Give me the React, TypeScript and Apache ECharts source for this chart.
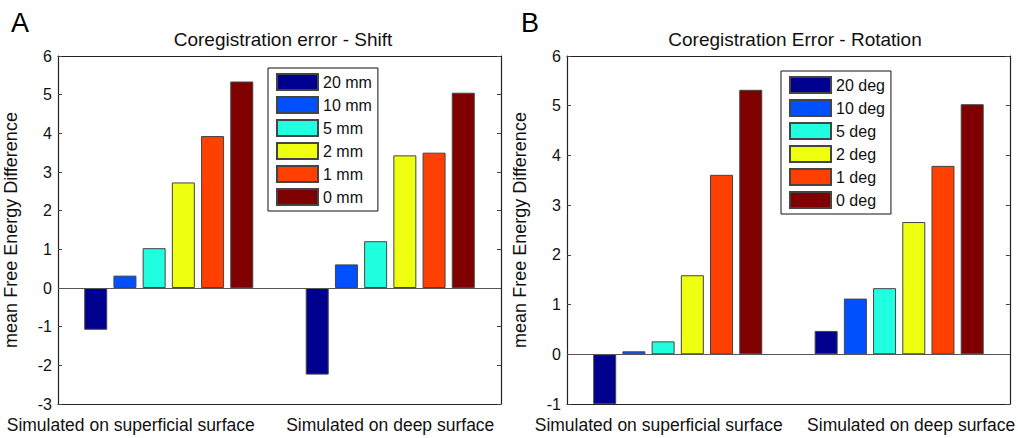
import React, { useEffect, useRef } from "react";
import * as echarts from "echarts";

const categories = ["Simulated on superficial surface", "Simulated on deep surface"];
const shiftNames = ["20 mm", "10 mm", "5 mm", "2 mm", "1 mm", "0 mm"];
const rotationNames = ["20 deg", "10 deg", "5 deg", "2 deg", "1 deg", "0 deg"];
const colors = ["#00008F", "#0050FF", "#20FFE0", "#EEFF10", "#FF4000", "#800000"];
// values per series: [superficial, deep]
const shiftValues = [
  [-1.08, -2.24],
  [0.32, 0.61],
  [1.03, 1.21],
  [2.73, 3.43],
  [3.93, 3.5],
  [5.34, 5.05],
];
const rotationValues = [
  [-1.0, 0.47],
  [0.06, 1.12],
  [0.26, 1.33],
  [1.59, 2.66],
  [3.61, 3.79],
  [5.32, 5.03],
];
const shiftTicks = { min: -3, max: 6, interval: 1 };
const rotationTicks = { min: -1, max: 6, interval: 1 };

const FONT = "Liberation Sans, Arial, sans-serif";

export default function App() {
  const ref = useRef<HTMLDivElement>(null);
  useEffect(() => {
    if (!ref.current) return;
    const chart = echarts.init(ref.current, undefined, { renderer: "svg" });
    const axisColor = "#222";
    const grids = [
      { left: 58, right: 517, top: 56, bottom: 34 },
      { left: 567, right: 7, top: 56, bottom: 34 },
    ];
    const labelPads = [
      [[0, 76, 0, 0], [0, 0, 0, 0]],
      [[0, 38, 0, 0], [0, 0, 0, 24]],
    ];
    const xAxes: any[] = [];
    const yAxes: any[] = [];
    [0, 1].forEach((g) => {
      const pads = labelPads[g];
      xAxes.push({
        type: "category",
        gridIndex: g,
        data: categories,
        position: "bottom",
        axisLine: { onZero: false, lineStyle: { color: axisColor, width: 1.2 } },
        axisTick: { inside: true, alignWithLabel: true, length: 4, lineStyle: { color: "#444" } },
        axisLabel: {
          margin: 12,
          interval: 0,
          formatter: (v: string, i: number) => (i === 0 ? "{a|" + v + "}" : "{b|" + v + "}"),
          rich: {
            a: { fontFamily: FONT, fontSize: 17.5, color: "#111", padding: pads[0] },
            b: { fontFamily: FONT, fontSize: 17.5, color: "#111", padding: pads[1] },
          },
        },
      });
      xAxes.push({
        type: "category",
        gridIndex: g,
        data: categories,
        position: "top",
        axisLine: { onZero: false, lineStyle: { color: axisColor, width: 1.2 } },
        axisTick: { inside: true, alignWithLabel: true, length: 4, lineStyle: { color: "#444" } },
        axisLabel: { show: false },
      });
      const t = g === 0 ? shiftTicks : rotationTicks;
      yAxes.push({
        type: "value",
        gridIndex: g,
        min: t.min,
        max: t.max,
        interval: t.interval,
        position: "left",
        name: "mean Free Energy Difference",
        nameLocation: "middle",
        nameGap: 38,
        nameTextStyle: { fontFamily: FONT, fontSize: 18, color: "#111" },
        axisLine: { show: true, lineStyle: { color: axisColor, width: 1.2 } },
        axisTick: { show: true, inside: true, length: 4, lineStyle: { color: "#444" } },
        axisLabel: { fontFamily: FONT, fontSize: 16, color: "#111", margin: 6 },
        splitLine: { show: false },
      });
      yAxes.push({
        type: "value",
        gridIndex: g,
        min: t.min,
        max: t.max,
        interval: t.interval,
        position: "right",
        axisLine: { show: true, lineStyle: { color: axisColor, width: 1.2 } },
        axisTick: { show: true, inside: true, length: 4, lineStyle: { color: "#444" } },
        axisLabel: { show: false },
        splitLine: { show: false },
      });
    });

    const makeSeries = (names: string[], values: number[][], g: number) =>
      names.map((name, i) => ({
        type: "bar",
        name,
        xAxisIndex: g * 2,
        yAxisIndex: g * 2,
        data: values[i],
        barWidth: 23,
        barGap: "27%",
        itemStyle: { color: colors[i], borderColor: "#444", borderWidth: 1 },
        ...(i === 0
          ? {
              markLine: {
                silent: true,
                symbol: ["none", "none"],
                label: { show: false },
                lineStyle: { color: "#555", type: "solid", width: 1 },
                data: [{ yAxis: 0 }],
              },
            }
          : {}),
      }));

    const legendBase = {
      orient: "vertical",
      backgroundColor: "#fff",
      borderColor: "#111",
      borderWidth: 1,
      borderRadius: 0,
      padding: [5, 6, 5, 8],
      itemWidth: 41,
      itemHeight: 16,
      itemGap: 5,
      icon: "rect",
      textStyle: { fontFamily: FONT, fontSize: 16, color: "#111", lineHeight: 16 },
    };

    chart.setOption({
      animation: false,
      backgroundColor: "#fff",
      title: [
        { text: "A", left: 6, top: 4, textStyle: { fontFamily: FONT, fontSize: 27, fontWeight: "normal", color: "#000" } },
        { text: "B", left: 516, top: 4, textStyle: { fontFamily: FONT, fontSize: 27, fontWeight: "normal", color: "#000" } },
        {
          text: "Coregistration error - Shift",
          left: 278,
          top: 25,
          textAlign: "center",
          textStyle: { fontFamily: FONT, fontSize: 19, fontWeight: "normal", color: "#111" },
        },
        {
          text: "Coregistration Error - Rotation",
          left: 790,
          top: 25,
          textAlign: "center",
          textStyle: { fontFamily: FONT, fontSize: 19, fontWeight: "normal", color: "#111" },
        },
      ],
      legend: [
        { ...legendBase, data: shiftNames, left: 268, top: 68 },
        { ...legendBase, data: rotationNames, left: 781, top: 71 },
      ],
      grid: grids,
      xAxis: xAxes,
      yAxis: yAxes,
      series: [...makeSeries(shiftNames, shiftValues, 0), ...makeSeries(rotationNames, rotationValues, 1)],
    });
    return () => chart.dispose();
  }, []);
  return <div ref={ref} style={{ width: 1018, height: 438, position: "absolute", left: 0, top: 0 }} />;
}
